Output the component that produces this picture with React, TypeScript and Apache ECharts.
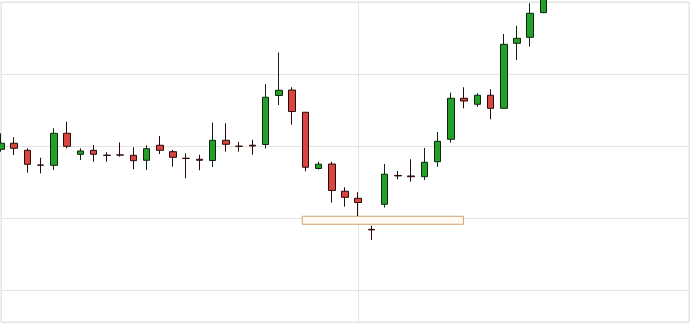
import React, { useEffect, useRef } from "react";
import * as echarts from "echarts";

// candle positions (index along the time axis)
const positions = [
  0, 1, 2, 3, 4, 5, 6, 7, 8, 9, 10, 11, 12, 13, 14, 15, 16, 17, 18, 19, 20,
  21, 22, 23, 24, 25, 26, 27, 28, 29, 30, 31, 32, 33, 34, 35, 36, 37, 38, 39,
  40, 41,
];
const opens = [
  19.56, 20.4, 19.42, 17.38, 17.34, 21.78, 18.87, 19.42, 18.74, 18.78, 18.73,
  18.04, 20.12, 19.23, 18.31, 18.18, 18.01, 20.81, 19.99, 20.13, 20.23, 27.03,
  27.79, 24.7, 16.9, 17.52, 13.74, 12.76, 8.45, 11.93, 15.93, 15.86, 15.76,
  17.84, 20.95, 26.64, 25.81, 27.06, 25.25, 34.27, 35.1, 38.52,
];
const closes = [
  20.4, 19.7, 17.48, 17.36, 21.78, 19.98, 19.33, 18.87, 18.72, 18.76, 17.98,
  19.65, 19.42, 18.45, 18.3, 18.04, 20.81, 20.26, 19.98, 20.02, 26.78, 27.75,
  24.81, 17.07, 17.5, 13.85, 12.9, 12.18, 8.38, 16.11, 15.87, 15.76, 17.76,
  20.67, 26.64, 26.26, 27.06, 25.25, 34.13, 34.96, 38.43, 42.5,
];
const lows = [
  19.23, 18.77, 16.32, 16.23, 16.69, 19.7, 18.08, 17.84, 17.84, 18.54, 16.79,
  16.69, 18.91, 17.15, 15.54, 16.65, 17.11, 19.23, 19.23, 18.81, 19.67, 25.71,
  22.98, 16.51, 16.76, 12.18, 11.6, 10.31, 6.98, 11.49, 15.41, 15.07, 15.3,
  17.15, 20.48, 25.25, 25.47, 23.73, 25.25, 31.95, 33.8, 38.45,
];
const highs = [
  21.78, 21.23, 19.7, 18.4, 22.48, 23.39, 19.7, 20.16, 19.15, 20.51, 19.84,
  20.12, 21.41, 19.47, 18.98, 18.81, 23.28, 23.17, 20.58, 20.89, 28.6, 32.99,
  28.17, 24.7, 17.84, 17.84, 14.29, 13.6, 8.95, 17.52, 16.55, 18.18, 19.74,
  21.96, 27.42, 28.17, 27.33, 27.89, 35.56, 36.71, 39.82, 43.5,
];

// highlighted support zone
const zoneStart = 22.77;
const zoneEnd = 34.95;
const zoneLow = 9.16;
const zoneHigh = 10.27;

// axis ranges
const xMin = 0;
const xMax = 52;
const xSplit = 27;
const yMin = -4.4;
const yMax = 40;

export default function App() {
  const ref = useRef<HTMLDivElement>(null);

  useEffect(() => {
    if (!ref.current) return;
    document.body.style.margin = "0";
    const chart = echarts.init(ref.current, null, { renderer: "svg" });
    const data = positions.map((x, i) => [
      x,
      opens[i],
      closes[i],
      lows[i],
      highs[i],
    ]);
    chart.setOption({
      animation: false,
      grid: {
        left: 1,
        right: 1,
        top: 2,
        bottom: 2,
        show: true,
        borderColor: "#e2e2e2",
        borderWidth: 1,
        backgroundColor: "transparent",
      },
      xAxis: {
        type: "value",
        min: xMin,
        max: xMax,
        interval: xSplit,
        axisLine: { show: false },
        axisTick: { show: false },
        axisLabel: { show: false },
        splitLine: { show: true, lineStyle: { color: "#e6e6e6", width: 1 } },
      },
      yAxis: {
        type: "value",
        min: yMin,
        max: yMax,
        scale: true,
        axisLine: { show: false },
        axisTick: { show: false },
        axisLabel: { show: false },
        splitLine: { show: true, lineStyle: { color: "#e3e3e3", width: 1 } },
      },
      series: [
        {
          type: "candlestick",
          clip: true,
          barWidth: 7,
          encode: { x: 0, y: [1, 2, 3, 4] },
          data,
          itemStyle: {
            color: "#22a02a",
            color0: "#d9453f",
            borderColor: "#0c260c",
            borderColor0: "#2a0808",
            borderWidth: 1,
          },
          markArea: {
            silent: true,
            itemStyle: {
              color: "#fffaf1",
              borderColor: "#d0a070",
              borderWidth: 1,
            },
            data: [
              [
                { coord: [zoneStart, zoneHigh] },
                { coord: [zoneEnd, zoneLow] },
              ],
            ],
          },
        },
      ],
    });
    return () => chart.dispose();
  }, []);

  return <div ref={ref} style={{ width: 690, height: 324 }} />;
}
